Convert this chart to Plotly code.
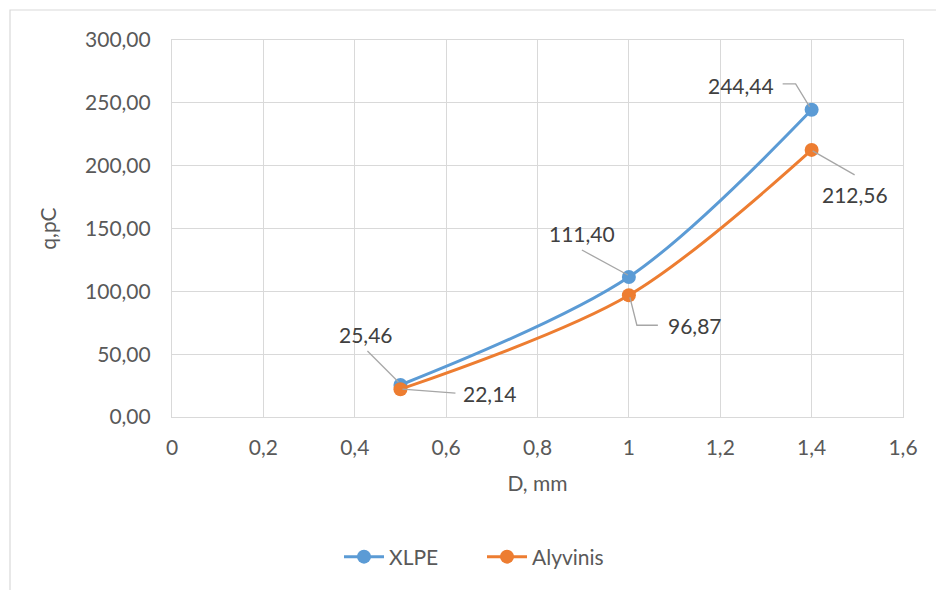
import plotly.graph_objects as go

# Defect size D (mm) vs. apparent charge q (pC)
d_mm = [0.5, 1.0, 1.4]
q_xlpe = [25.46, 111.40, 244.44]
q_alyvinis = [22.14, 96.87, 212.56]

x_ticks = [0, 0.2, 0.4, 0.6, 0.8, 1.0, 1.2, 1.4, 1.6]
y_ticks = [0, 50, 100, 150, 200, 250, 300]

BLUE = "#5B9BD5"
ORANGE = "#ED7D31"
GRID = "#D9D9D9"
TICK_TXT = "#595959"
LABEL_TXT = "#404040"
LEADER = "#A6A6A6"
FONT = "Lato, Carlito, Calibri, sans-serif"

fig = go.Figure()
fig.add_trace(go.Scatter(
    x=d_mm, y=q_xlpe, name="XLPE", mode="lines+markers",
    line=dict(color=BLUE, width=3, shape="spline", smoothing=0.9),
    marker=dict(color=BLUE, size=14),
))
fig.add_trace(go.Scatter(
    x=d_mm, y=q_alyvinis, name="Alyvinis", mode="lines+markers",
    line=dict(color=ORANGE, width=3, shape="spline", smoothing=0.9),
    marker=dict(color=ORANGE, size=14),
))


def fmt(v):
    return f"{v:.2f}".replace(".", ",")


# Data-label placement: (text shift x, text shift y, leader polyline in px offsets)
xlpe_labels = [
    (-34, 51, [(-33, 34), (-2, 3)]),
    (-47, 44, [(-47, 27), (-1, 2)]),
    (-71, 24, [(-29, 26), (-16, 26), (-2, 3)]),
]
aly_labels = [
    (90, -4, [(2, 0), (55, -4)]),
    (66, -30, [(1, -2), (8, -30), (29, -30)]),
    (43, -45, [(1, -1), (43, -25)]),
]

for series, placements in ((q_xlpe, xlpe_labels), (q_alyvinis, aly_labels)):
    for xv, yv, (sx, sy, leader) in zip(d_mm, series, placements):
        fig.add_annotation(
            x=xv, y=yv, text=fmt(yv), showarrow=False,
            xshift=sx, yshift=sy,
            font=dict(family=FONT, size=21, color=LABEL_TXT),
        )
        path = "M" + " L".join(f"{px},{py}" for px, py in leader)
        fig.add_shape(
            type="path", path=path,
            xref="x", yref="y", xsizemode="pixel", ysizemode="pixel",
            xanchor=xv, yanchor=yv,
            line=dict(color=LEADER, width=1.3),
        )

# Chart-area frame
plot_l, plot_r, plot_t, plot_b = 172, 903, 40, 417
pw, ph = plot_r - plot_l, plot_b - plot_t
fig.add_shape(
    type="rect", xref="paper", yref="paper",
    x0=(10 - plot_l) / pw, x1=(960 - plot_l) / pw,
    y0=(plot_b - 620) / ph, y1=(plot_b - 10) / ph,
    line=dict(color=GRID, width=1.2), fillcolor="rgba(0,0,0,0)", layer="below",
)

fig.update_layout(
    width=936, height=590,
    margin=dict(l=plot_l, r=936 - plot_r, t=plot_t, b=590 - plot_b),
    paper_bgcolor="white", plot_bgcolor="white",
    separators=", ",
    font=dict(family=FONT, size=21, color=TICK_TXT),
    showlegend=True,
    legend=dict(
        orientation="h", x=(482 - plot_l) / pw, xanchor="center",
        y=(plot_b - 557) / ph, yanchor="middle",
        font=dict(family=FONT, size=21, color=TICK_TXT),
        itemwidth=40, entrywidth=88,
    ),
)
fig.update_xaxes(
    range=[0, 1.6], tickvals=x_ticks, tickformat="~g",
    showgrid=True, gridcolor=GRID, gridwidth=1.2,
    showline=True, linecolor=GRID, linewidth=1.2, mirror=True,
    zeroline=False, ticks="", ticklabelstandoff=12,
    title=dict(text="D, mm", standoff=18, font=dict(family=FONT, size=21, color=TICK_TXT)),
)
fig.update_yaxes(
    range=[0, 300], tickvals=y_ticks, tickformat=".2f",
    showgrid=True, gridcolor=GRID, gridwidth=1.2,
    showline=True, linecolor=GRID, linewidth=1.2, mirror=True,
    zeroline=False, ticks="", ticklabelstandoff=16,
    title=dict(text="q,pC", standoff=22, font=dict(family=FONT, size=21, color=TICK_TXT)),
)

fig.write_html("out.html")
